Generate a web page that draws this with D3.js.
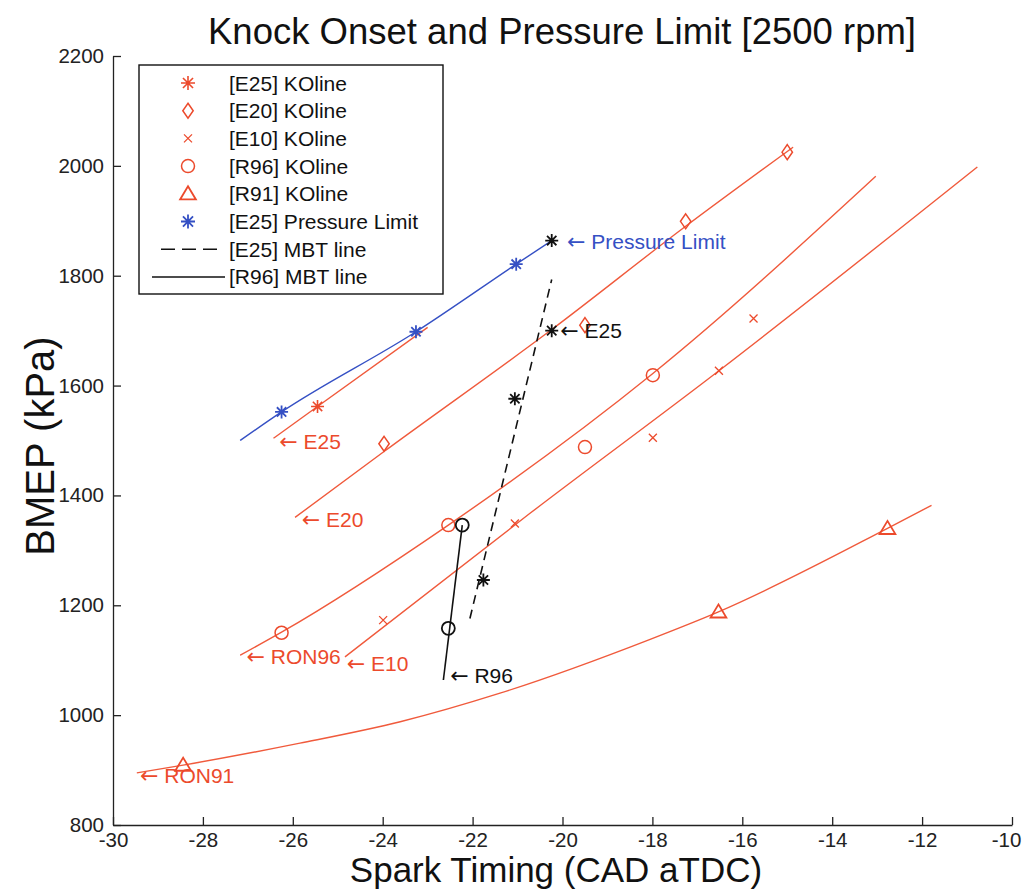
<!DOCTYPE html>
<html>
<head>
<meta charset="utf-8">
<script src="https://cdn.jsdelivr.net/npm/d3@7"></script>
<style>
  body { margin: 0; background: #fff; }
  text { font-family: "Liberation Sans", Arial, sans-serif; }
</style>
</head>
<body>
<script>
// axis ticks
const xTicks = [-30, -28, -26, -24, -22, -20, -18, -16, -14, -12, -10]
const yTicks = [800, 1000, 1200, 1400, 1600, 1800, 2000, 2200]

// knock onset points  [spark timing, bmep]
const e25KO = [[-25.45, 1562]]
const e20KO = [[-23.97, 1494], [-19.5, 1710], [-17.26, 1899], [-15.0, 2025]]
const e10KO = [[-23.99, 1173], [-21.06, 1349], [-17.99, 1505], [-16.52, 1627], [-15.75, 1722]]
const r96KO = [[-26.25, 1150], [-22.54, 1346], [-19.5, 1488], [-17.99, 1619]]
const r91KO = [[-28.44, 909], [-16.53, 1188], [-12.77, 1340]]
const e25PL = [[-26.25, 1552], [-23.26, 1698], [-21.03, 1821]]
const e25MBT = [[-21.76, 1246], [-21.06, 1576], [-20.24, 1700], [-20.24, 1864]]
const r96MBT = [[-22.54, 1158], [-22.23, 1346]]

// fitted lines
const e25Fit = [[-26.43, 1504], [-25.45, 1562], [-23.0, 1706]]
const e20Fit = [[-25.95, 1360], [-23.97, 1480], [-20.24, 1702], [-17.26, 1890], [-14.87, 2034]]
const e10Fit = [[-24.84, 1106], [-20.73, 1367], [-16.52, 1627], [-10.77, 1998]]
const r96Fit = [[-27.17, 1109], [-26.25, 1151], [-22.54, 1346], [-17.99, 1622], [-13.03, 1981]]
const r91Fit = [[-29.47, 895], [-28.44, 909], [-25.84, 949], [-23.61, 988], [-21.39, 1040], [-18.05, 1138], [-16.53, 1188], [-12.77, 1340], [-11.79, 1382]]
const plFit = [[-27.17, 1500], [-26.25, 1552], [-23.26, 1698], [-21.03, 1821], [-20.24, 1864]]
const e25MBTLine = [[-22.06, 1176], [-20.24, 1793]]
const r96MBTLine = [[-22.65, 1064], [-22.23, 1346]]

// annotations
const noteText = ["Pressure Limit", "E25", "E25", "E20", "RON96", "E10", "R96", "RON91"]
const noteX = [-19.9, -20.05, -26.3, -25.8, -27.03, -24.8, -22.5, -29.4]
const noteY = [1862, 1700, 1499, 1357, 1106, 1095, 1073, 891]
const noteKind = ["blue", "black", "red", "red", "red", "red", "black", "red"]

const legendLabels = ["[E25] KOline", "[E20] KOline", "[E10] KOline", "[R96] KOline", "[R91] KOline",
  "[E25] Pressure Limit", "[E25] MBT line", "[R96] MBT line"]

const RED = "#ec4a2c"
const LINE_RED = "#f05a3c"
const BLUE = "#3550c4"
const colors = { red: RED, blue: BLUE, black: "#111" }

const w = 1025
const h = 890

const x = d3.scaleLinear().domain([-30, -10]).range([113, 1012])
const y = d3.scaleLinear().domain([800, 2200]).range([825, 56])

const svg = d3.select("body").append("svg")
  .attr("width", w)
  .attr("height", h)

// title + axis labels
svg.append("text")
  .attr("x", 562).attr("y", 44)
  .attr("text-anchor", "middle")
  .attr("font-size", 36.5)
  .attr("fill", "#111")
  .text("Knock Onset and Pressure Limit [2500 rpm]")

svg.append("text")
  .attr("x", 556).attr("y", 882)
  .attr("text-anchor", "middle")
  .attr("font-size", 35)
  .attr("fill", "#111")
  .text("Spark Timing (CAD aTDC)")

svg.append("text")
  .attr("transform", "translate(54,446) rotate(-90)")
  .attr("text-anchor", "middle")
  .attr("font-size", 40)
  .attr("fill", "#111")
  .text("BMEP (kPa)")

// axes, ticks inward like matlab
const xAxis = svg.append("g")
  .attr("transform", `translate(0,${y(800)})`)
  .call(d3.axisBottom(x).tickValues(xTicks).tickFormat(d => String(d))
    .tickSizeInner(-8).tickSizeOuter(0).tickPadding(7))
const yAxis = svg.append("g")
  .attr("transform", `translate(${x(-30)},0)`)
  .call(d3.axisLeft(y).tickValues(yTicks).tickFormat(d => String(d))
    .tickSizeInner(-8).tickSizeOuter(0).tickPadding(9))

;[xAxis, yAxis].forEach(g => {
  g.select(".domain").attr("stroke", "#222").attr("stroke-width", 1.3)
  g.selectAll(".tick line").attr("stroke", "#222").attr("stroke-width", 1.3)
  g.selectAll(".tick text")
    .attr("font-size", 20.5)
    .attr("font-family", "Liberation Sans, Arial, sans-serif")
    .attr("fill", "#222")
})
// keep the last label inside the picture
xAxis.selectAll(".tick text").filter(d => d === -10).attr("dx", -6)

// lines
const line = d3.line().x(d => x(d[0])).y(d => y(d[1])).curve(d3.curveMonotoneX)
const straight = d3.line().x(d => x(d[0])).y(d => y(d[1]))

;[e25Fit, e20Fit, e10Fit, r96Fit, r91Fit].forEach(s => {
  svg.append("path").attr("d", line(s))
    .attr("fill", "none").attr("stroke", LINE_RED).attr("stroke-width", 1.4)
})
svg.append("path").attr("d", line(plFit))
  .attr("fill", "none").attr("stroke", BLUE).attr("stroke-width", 1.4)
svg.append("path").attr("d", straight(e25MBTLine))
  .attr("fill", "none").attr("stroke", "#111").attr("stroke-width", 1.6)
  .attr("stroke-dasharray", "9,6")
svg.append("path").attr("d", straight(r96MBTLine))
  .attr("fill", "none").attr("stroke", "#111").attr("stroke-width", 1.6)

// marker shapes
function asterisk(r) {
  const a = r * 0.72
  return `M${-r},0L${r},0M0,${-r}L0,${r}M${-a},${-a}L${a},${a}M${-a},${a}L${a},${-a}`
}
function cross(r) {
  return `M${-r},${-r}L${r},${r}M${-r},${r}L${r},${-r}`
}
function diamond(r) {
  return `M0,${-r * 1.15}L${r * 0.8},0L0,${r * 1.15}L${-r * 0.8},0Z`
}
function circle(r) {
  return `M${r},0A${r},${r} 0 1,1 ${-r},0A${r},${r} 0 1,1 ${r},0`
}
function triangle(r) {
  return `M0,${-r}L${r * 1.05},${r * 0.75}L${-r * 1.05},${r * 0.75}Z`
}

function markers(data, pathStr, color, sw) {
  svg.append("g").selectAll("path")
    .data(data)
    .enter()
    .append("path")
    .attr("transform", d => `translate(${x(d[0])},${y(d[1])})`)
    .attr("d", pathStr)
    .attr("fill", "none")
    .attr("stroke", color)
    .attr("stroke-width", sw)
}

markers(e25KO, asterisk(6.5), RED, 1.6)
markers(e20KO, diamond(6.5), RED, 1.5)
markers(e10KO, cross(4), RED, 1.3)
markers(r96KO, circle(6.5), RED, 1.5)
markers(r91KO, triangle(7.5), RED, 1.8)
markers(e25PL, asterisk(6.5), BLUE, 1.8)
markers(e25MBT, asterisk(6.5), "#111", 1.8)
markers(r96MBT, circle(6.5), "#111", 1.8)

// annotations: wide arrow glyph from DejaVu, label after it
const notes = svg.append("g").selectAll("text")
  .data(noteText)
  .enter()
  .append("text")
  .attr("x", (d, i) => x(noteX[i]))
  .attr("y", (d, i) => y(noteY[i]))
  .attr("dy", "0.36em")
  .attr("font-size", 21)
  .attr("fill", (d, i) => colors[noteKind[i]])
notes.append("tspan")
  .attr("font-family", "DejaVu Sans")
  .attr("font-size", 22)
  .text("\u2190")
notes.append("tspan")
  .text(d => "\u00a0" + d)

// legend
const lg = svg.append("g")
lg.append("rect")
  .attr("x", 139).attr("y", 65)
  .attr("width", 304).attr("height", 229)
  .attr("fill", "#fff")
  .attr("stroke", "#111").attr("stroke-width", 1.4)

const rowY = i => 83 + i * 27.7
const legendMarks = [
  [asterisk(7), RED, 1.6], [diamond(6.5), RED, 1.5], [cross(4), RED, 1.3],
  [circle(6.5), RED, 1.5], [triangle(7.5), RED, 1.8], [asterisk(7), BLUE, 1.8]
]
legendMarks.forEach((m, i) => {
  lg.append("path")
    .attr("transform", `translate(188,${rowY(i)})`)
    .attr("d", m[0]).attr("fill", "none")
    .attr("stroke", m[1]).attr("stroke-width", m[2])
})
lg.append("line")
  .attr("x1", 161).attr("x2", 224).attr("y1", rowY(6)).attr("y2", rowY(6))
  .attr("stroke", "#111").attr("stroke-width", 1.5).attr("stroke-dasharray", "14,7")
lg.append("line")
  .attr("x1", 152).attr("x2", 225).attr("y1", rowY(7)).attr("y2", rowY(7))
  .attr("stroke", "#111").attr("stroke-width", 1.5)

lg.selectAll("text.lab")
  .data(legendLabels)
  .enter()
  .append("text")
  .attr("class", "lab")
  .attr("x", 229)
  .attr("y", (d, i) => rowY(i))
  .attr("dy", "0.36em")
  .attr("font-size", 21)
  .attr("fill", "#111")
  .text(d => d)
</script>
</body>
</html>
